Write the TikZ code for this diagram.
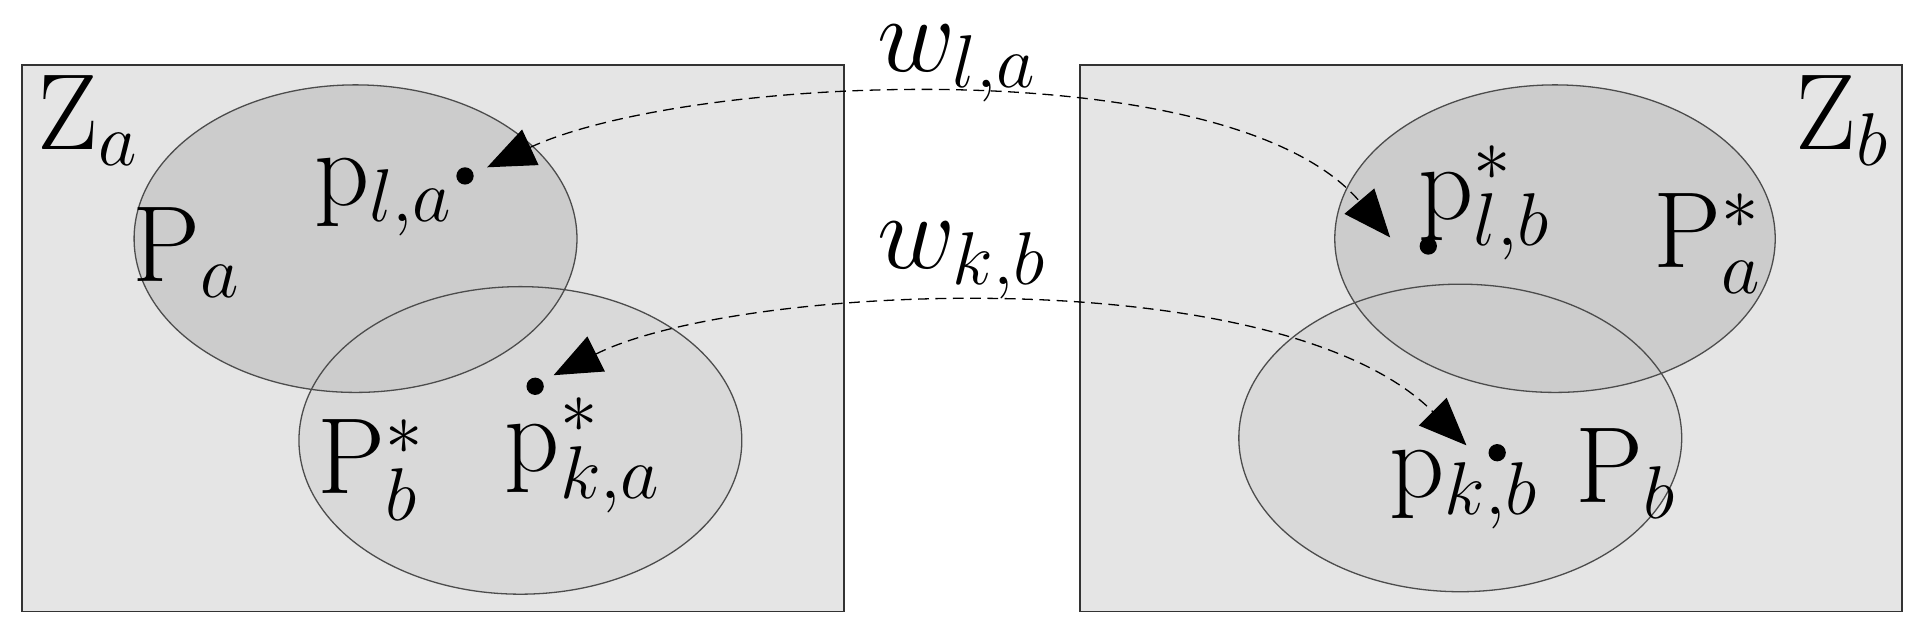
\documentclass[tikz,border=0pt]{standalone}
\usepackage{tikz}
\usetikzlibrary{arrows.meta}
\begin{document}
\begin{tikzpicture}[x=0.01cm,y=-0.01cm,
  zone/.style={draw=black!80,fill=black!10,line width=0.4pt},
  set/.style={draw=black!70,line width=0.3pt},
  lbl/.style={inner sep=0pt,font=\fontsize{25}{30}\selectfont},
  pt/.style={circle,fill=black,inner sep=0pt,minimum size=4pt},
  link/.style={dash pattern=on 2.5pt off 1.5pt,line width=0.3pt,{Triangle[length=11pt,width=9pt]}-{Triangle[length=11pt,width=9pt]}}]
\useasboundingbox (0,0) rectangle (1568,510);
% zones
\draw [zone] (18,53) rectangle (686,497);
\draw [zone] (878,53) rectangle (1546,497);
% sets
\fill [black!15] (423,358) ellipse [x radius=180,y radius=125];
\fill [black!20] (289,194) ellipse [x radius=180,y radius=125];
\draw [set] (289,194) ellipse [x radius=180,y radius=125];
\draw [set] (423,358) ellipse [x radius=180,y radius=125];
\fill [black!15] (1187,356) ellipse [x radius=180,y radius=125];
\fill [black!20] (1264,194) ellipse [x radius=179,y radius=125];
\draw [set] (1264,194) ellipse [x radius=179,y radius=125];
\draw [set] (1187,356) ellipse [x radius=180,y radius=125];
% labels
\node [lbl] (za) at (72,98) {Z$_a$};
\node [lbl] (pa) at (152,205) {P$_a$};
\node [lbl] (pbs) at (302,382) {P$_b^*$};
\node [lbl] (zb) at (1498,98) {Z$_b$};
\node [lbl] (pas) at (1388,198) {P$_a^*$};
\node [lbl] (pb) at (1322,385) {P$_b$};
\node [lbl] (pla) at (312,160) {p$_{l,a}$};
\node [lbl] (pka) at (474,370) {p$_{k,a}^*$};
\node [lbl] (plb) at (1207,165) {p$_{l,b}^*$};
\node [lbl] (pkb) at (1190,398) {p$_{k,b}$};
\node [lbl] (wla) at (778,52) {$w_{l,a}$};
\node [lbl] (wkb) at (782,212) {$w_{k,b}$};
% points
\node [pt] (dla) at (378,143) {};
\node [pt] (dka) at (435,314) {};
\node [pt] (dlb) at (1161,200) {};
\node [pt] (dkb) at (1217,368) {};
% links
\coordinate (ala) at (396,136);
\coordinate (alb) at (1130,193);
\coordinate (aka) at (450,305);
\coordinate (akb) at (1192,362);
\draw [link] (ala) .. controls (560,60) and (1000,40) .. (alb);
\draw [link] (aka) .. controls (600,230) and (1040,210) .. (akb);
\end{tikzpicture}
\end{document}
